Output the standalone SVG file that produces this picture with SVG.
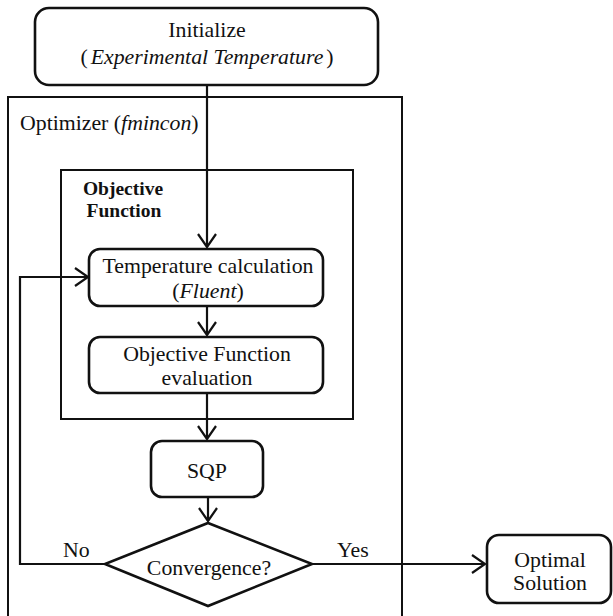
<svg xmlns="http://www.w3.org/2000/svg" width="613" height="616" viewBox="0 0 613 616">
  <style>
    .node { fill: #fff; stroke: #111; stroke-width: 2.6; }
    .frame { fill: none; stroke: #111; stroke-width: 2; }
    .link { fill: none; stroke: #111; stroke-width: 2.2; }
  </style>
  <defs>
    <marker id="arrow" viewBox="0 0 16 20" refX="14" refY="10" markerWidth="16" markerHeight="20" markerUnits="userSpaceOnUse" orient="auto">
      <path d="M1,1 L14,10 L1,19" fill="none" stroke="#111" stroke-width="2.2"/>
    </marker>
  </defs>
  <rect width="613" height="616" fill="#fff"/>

  <!-- containers -->
  <g id="optimizer">
    <rect class="frame" x="8" y="97" width="394" height="540"/>
    <text font-family="Liberation Serif" font-size="21.8" fill="#111" x="20" y="130">Optimizer (<tspan font-style="italic">fmincon</tspan>)</text>
  </g>
  <g id="objective-function">
    <rect class="frame" x="61" y="170" width="292" height="249"/>
    <text font-family="Liberation Serif" font-size="19.5" font-weight="bold" fill="#111" text-anchor="middle" x="123" y="195">Objective</text>
    <text font-family="Liberation Serif" font-size="19.5" font-weight="bold" fill="#111" text-anchor="middle" x="124" y="217">Function</text>
  </g>

  <!-- connectors -->
  <g id="connectors">
    <path class="link" d="M207,86 V247" marker-end="url(#arrow)"/>
    <path class="link" d="M207,306 V335" marker-end="url(#arrow)"/>
    <path class="link" d="M207,393 V439" marker-end="url(#arrow)"/>
    <path class="link" d="M208,497 V521" marker-end="url(#arrow)"/>
    <path class="link" d="M105,564 H20 V277 H88" marker-end="url(#arrow)"/>
    <path class="link" d="M312,564 H485" marker-end="url(#arrow)"/>
  </g>

  <!-- nodes -->
  <g id="initialize">
    <rect class="node" x="35" y="8" width="343" height="77" rx="14"/>
    <text font-family="Liberation Serif" font-size="21.8" fill="#111" text-anchor="middle" x="207" y="37">Initialize</text>
    <text font-family="Liberation Serif" font-size="21.8" fill="#111" text-anchor="middle" x="207" y="64">(<tspan font-style="italic" dx="3">Experimental Temperature</tspan><tspan dx="3">)</tspan></text>
  </g>
  <g id="temperature-calculation">
    <rect class="node" x="89" y="249" width="234" height="57" rx="11"/>
    <text font-family="Liberation Serif" font-size="21.8" fill="#111" text-anchor="middle" x="208" y="273">Temperature calculation</text>
    <text font-family="Liberation Serif" font-size="21.8" fill="#111" text-anchor="middle" x="208" y="298">(<tspan font-style="italic">Fluent</tspan>)</text>
  </g>
  <g id="objective-evaluation">
    <rect class="node" x="89" y="337" width="234" height="56" rx="11"/>
    <text font-family="Liberation Serif" font-size="21.8" fill="#111" text-anchor="middle" x="207" y="361">Objective Function</text>
    <text font-family="Liberation Serif" font-size="21.8" fill="#111" text-anchor="middle" x="207" y="385">evaluation</text>
  </g>
  <g id="sqp">
    <rect class="node" x="151" y="441" width="112" height="56" rx="11"/>
    <text font-family="Liberation Serif" font-size="21.8" fill="#111" text-anchor="middle" x="207" y="478">SQP</text>
  </g>
  <g id="convergence">
    <polygon class="node" points="208,523 312,564 208,606 105,564"/>
    <text font-family="Liberation Serif" font-size="21.8" fill="#111" text-anchor="middle" x="209" y="575">Convergence?</text>
    <text font-family="Liberation Serif" font-size="21.8" fill="#111" x="63" y="557">No</text>
    <text font-family="Liberation Serif" font-size="21.8" fill="#111" x="337" y="557">Yes</text>
  </g>
  <g id="optimal-solution">
    <rect class="node" x="487" y="535" width="124" height="68" rx="12"/>
    <text font-family="Liberation Serif" font-size="21.8" fill="#111" text-anchor="middle" x="550" y="567">Optimal</text>
    <text font-family="Liberation Serif" font-size="21.8" fill="#111" text-anchor="middle" x="550" y="590">Solution</text>
  </g>
</svg>
